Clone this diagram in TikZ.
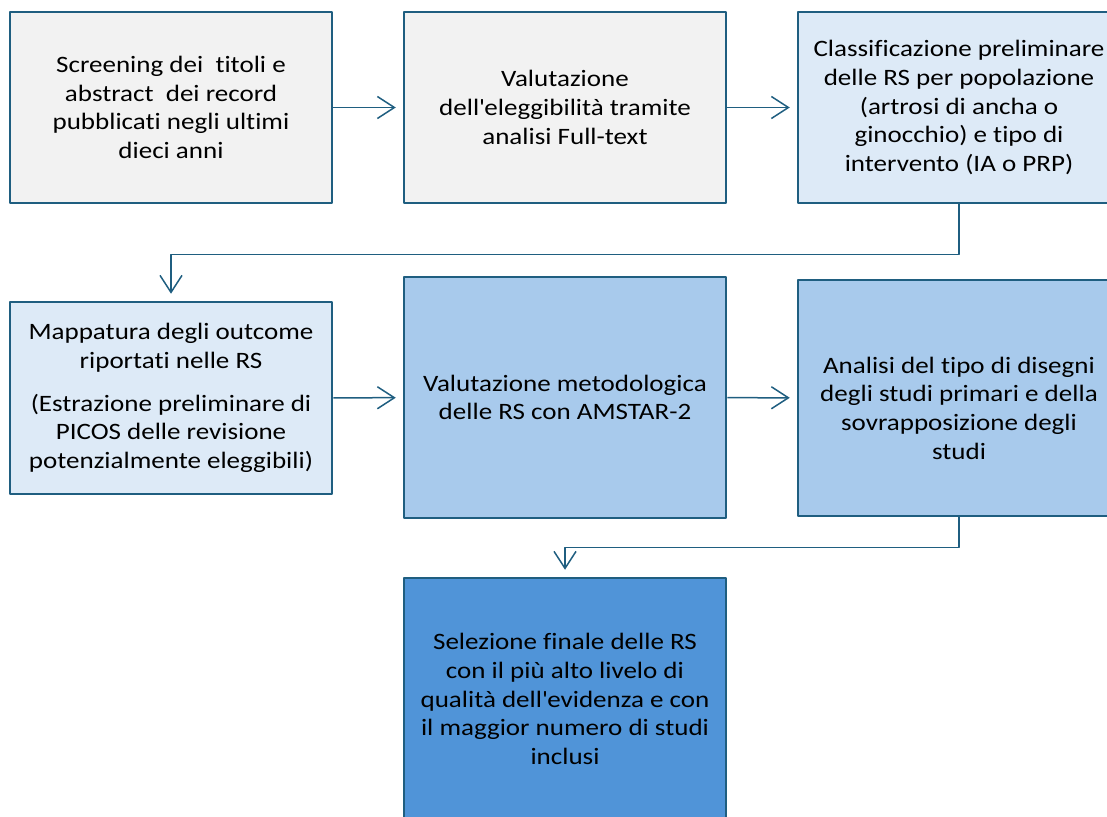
\documentclass[tikz,border=0pt]{standalone}
\usepackage{fontspec}
\setmainfont{Carlito}[FakeStretch=1.15,Ligatures={NoCommon}]
\usetikzlibrary{arrows.meta}
\definecolor{bordo}{RGB}{31,94,128}
\definecolor{grigio}{RGB}{242,242,242}
\definecolor{azzurro}{RGB}{221,234,247}
\definecolor{celeste}{RGB}{168,202,236}
\definecolor{blu}{RGB}{80,148,216}
\begin{document}
\begin{tikzpicture}[x=1pt,y=-1pt,line join=round,
>={Straight Barb[length=17pt,width=22pt,line width=1.5pt]},
fase/.style={draw=bordo,line width=2.5pt,minimum width=322pt,inner sep=0pt,align=center,font=\fontsize{23.5}{28.7}\selectfont},
testo/.style={align=center,inner sep=0pt,font=\fontsize{23.5}{28.7}\selectfont},
freccia/.style={->,draw=bordo,line width=1.5pt,shorten >=7pt}]
\useasboundingbox (0,0) rectangle (1107,816);
% prima riga
\node[fase,fill=grigio,minimum height=191pt] (b1) at (171,107.5)
{Screening dei~ titoli e\\abstract~ dei record\\pubblicati negli ultimi\\dieci anni};
\node[fase,fill=grigio,minimum height=191pt] (b2) at (565,107.5)
{Valutazione\\dell\textquotesingle eleggibilità tramite\\analisi Full-text};
\node[fase,fill=azzurro,minimum height=191pt] (b3) at (959,107.5)
{Classificazione preliminare\\delle RS per popolazione\\(artrosi di ancha o\\ginocchio) e tipo di\\intervento (IA o PRP)};
% seconda riga
\node[fase,fill=azzurro,minimum height=192pt] (b4) at (171,398)
{Mappatura degli outcome\\riportati nelle RS\\[14pt](Estrazione preliminare di\\PICOS delle revisione\\potenzialmente eleggibili)};
\node[fase,fill=celeste,minimum height=241pt] (b5) at (565,397.5)
{Valutazione metodologica\\delle RS con AMSTAR-2};
\node[fase,fill=celeste,minimum height=236pt] (b6) at (959,398) {};
\node[testo] (t6) at ([yshift=-10pt]b6.center)
{Analisi del tipo di disegni\\degli studi primari e della\\sovrapposizione degli\\studi};
% terza riga
\node[fase,fill=blu,minimum height=242pt] (b7) at (565,699)
{Selezione finale delle RS\\con il più alto livelo di\\qualità dell\textquotesingle evidenza e con\\il maggior numero di studi\\inclusi};
%
\draw[freccia] (b1) -- (b2);
\draw[freccia] (b2) -- (b3);
\draw[freccia] (b3.south) -- ++(0,50) -| (b4.north);
\draw[freccia] (b4) -- (b5);
\draw[freccia] (b5) -- (b6);
\draw[freccia] (b6.south) -- ++(0,30) -| (b7.north);
\end{tikzpicture}
\end{document}
